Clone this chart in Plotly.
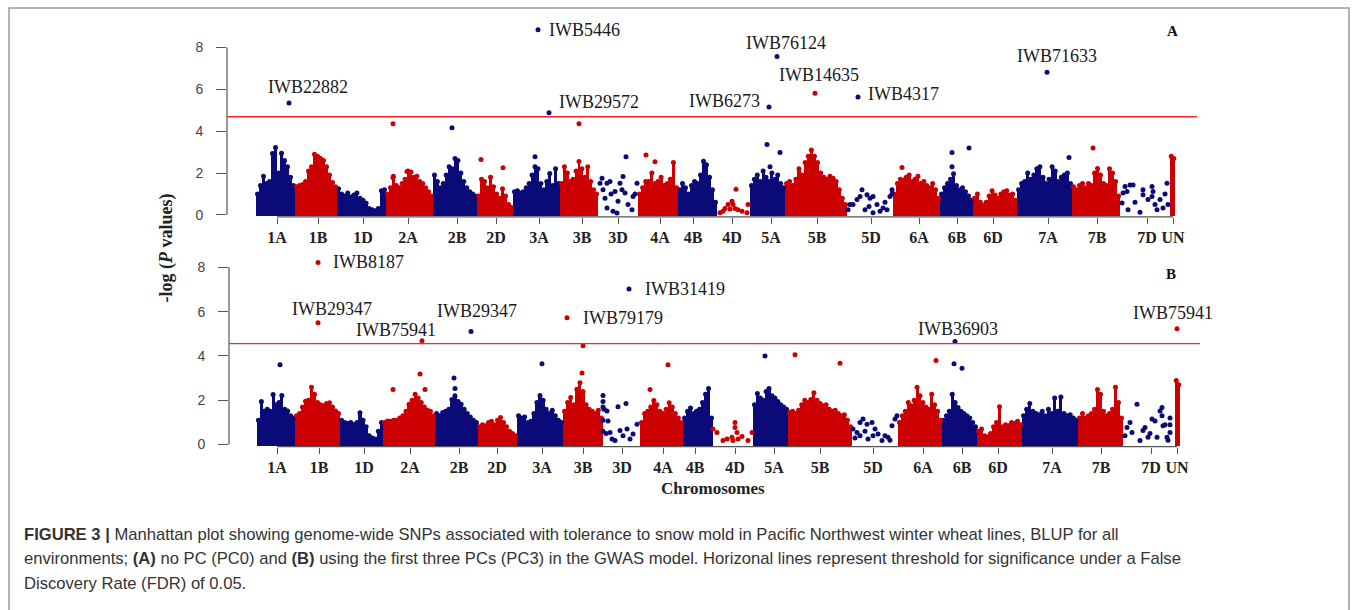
import bisect
import plotly.graph_objects as go

# ---------------------------------------------------------------- data
CHROMS = ["1A", "1B", "1D", "2A", "2B", "2D", "3A", "3B", "3D", "4A", "4B",
          "4D", "5A", "5B", "5D", "6A", "6B", "6D", "7A", "7B", "7D", "UN"]

# ---- panel A (PC0) : cumulative position scale
A_TICKS = [277, 318, 363, 408, 457, 496, 539, 582, 618, 660, 693,
           732, 771, 817, 871, 919, 957, 993, 1048, 1097, 1147, 1173]
A_STARTS = [256, 295, 337, 386, 433, 477, 513, 560, 598, 638, 678,
            717, 750, 785, 847, 893, 940, 973, 1017, 1072, 1120, 1170]
A_ENDS = [295, 337, 386, 433, 477, 513, 560, 598, 638, 678, 717,
          750, 785, 847, 893, 940, 973, 1017, 1072, 1120, 1170, 1175]
# upper envelope of the dense SNP clouds (-log P), evenly spaced along each chromosome
A_CLOUD = [
    [1.0, 1.4, 1.85, 1.5, 1.6, 2.93, 3.22, 2.0, 2.95, 2.6, 2.3, 1.8, 1.4],
    [1.35, 1.4, 1.45, 1.6, 2.1, 2.3, 2.9, 2.8, 2.7, 2.6, 2.3, 1.9, 1.55, 1.35],
    [1.25, 1.0, 0.9, 1.05, 0.85, 0.95, 1.05, 0.8, 0.7, 0.55, 0.3, 0.25, 0.2, 0.3, 1.15, 1.2],
    [1.0, 1.3, 1.85, 1.4, 1.3, 1.5, 1.7, 2.1, 2.05, 1.8, 1.85, 1.6, 1.5, 1.3, 1.1, 0.9],
    [1.9, 1.6, 1.3, 1.5, 1.9, 2.3, 2.2, 2.7, 2.6, 2.0, 1.6, 1.3, 1.1, 1.0, 0.9],
    [0.9, 1.7, 1.6, 1.3, 1.8, 1.35, 1.0, 0.8, 1.25, 0.9, 0.5, 0.35],
    [1.1, 1.15, 1.05, 1.1, 1.3, 1.5, 1.9, 2.3, 2.2, 1.5, 1.2, 1.6, 1.98, 1.4, 2.2, 1.5],
    [1.5, 2.3, 2.0, 1.6, 1.7, 2.1, 2.55, 2.2, 1.8, 2.3, 1.6, 1.2, 1.0],
    [],
    [1.0, 1.3, 1.6, 1.6, 2.0, 1.5, 1.6, 1.8, 1.4, 1.5, 1.7, 2.5, 1.3],
    [1.2, 1.5, 1.3, 1.0, 1.4, 1.6, 1.5, 1.9, 2.56, 2.4, 1.8, 1.2, 0.6],
    [],
    [1.4, 1.7, 1.9, 1.6, 2.1, 1.8, 1.6, 2.0, 1.7, 1.9, 1.5, 1.3],
    [1.5, 1.6, 1.4, 1.7, 2.2, 1.9, 2.5, 2.8, 3.1, 2.8, 2.5, 2.0, 1.8, 1.7, 1.85, 1.75, 1.6, 1.2, 0.8, 0.5],
    [],
    [1.0, 1.5, 1.7, 1.65, 1.8, 1.9, 1.6, 1.7, 1.85, 1.5, 1.6, 1.4, 1.3, 1.5, 1.2, 0.8],
    [1.0, 1.3, 1.5, 1.7, 1.97, 1.4, 1.2, 1.3, 1.1, 0.9, 0.7],
    [0.8, 1.0, 0.6, 0.45, 0.6, 0.9, 1.15, 0.95, 0.8, 1.0, 1.1, 1.15, 0.95, 1.0, 0.7],
    [1.2, 1.5, 1.6, 2.0, 1.7, 1.9, 2.2, 2.3, 1.8, 1.5, 1.7, 2.3, 2.1, 1.6, 1.8, 1.9, 2.0, 1.5],
    [1.35, 1.2, 1.4, 1.5, 1.3, 1.5, 1.4, 2.0, 2.22, 1.9, 1.5, 1.4, 2.2, 2.0, 1.6, 0.9],
    [],
    [2.8, 2.7],
]
# individual SNPs (sparse chromosomes and isolated points)
A_SNP_POS = [600, 602, 603, 607, 607, 610, 613, 615, 617, 618, 620, 623, 625, 626, 628, 632, 633, 637, 605, 611, 622, 635,
             720, 723, 728, 730, 732, 733, 736, 738, 742, 747, 748, 725, 735,
             848, 853, 857, 860, 862, 865, 867, 870, 873, 873, 877, 880, 883, 887, 890, 892, 892, 850, 869, 885,
             1122, 1123, 1125, 1127, 1128, 1130, 1133, 1140, 1143, 1143, 1148, 1152, 1152, 1153, 1155, 1157, 1160, 1163, 1167, 1168, 1165, 1135,
             393, 452, 579, 481, 503, 535, 646, 655, 767, 780, 770, 902, 952, 969, 952, 1069, 1093, 393, 407]
A_SNP_VAL = [1.51, 1.75, 1.2, 1.51, 0.33, 1.59, 0.17, 1.12, 0.09, 0.65, 1.51, 1.83, 1.04, 2.78, 0.49, 0.25, 0.88, 1.51, 0.8, 1.0, 1.2, 1.0,
             0.1, 0.17, 0.49, 0.28, 0.65, 0.49, 1.23, 0.25, 0.17, 0.1, 0.49, 0.3, 0.3,
             0.25, 0.49, 0.73, 0.88, 1.2, 0.25, 0.96, 0.8, 0.88, 0.1, 0.49, 0.17, 0.33, 0.25, 0.88, 1.2, 1.0, 0.5, 0.4, 0.6,
             0.57, 1.04, 1.36, 1.12, 0.25, 1.43, 1.43, 0.12, 1.2, 0.96, 0.73, 1.36, 0.88, 1.12, 0.49, 0.25, 0.73, 0.33, 1.51, 0.49, 1.0, 0.6,
             4.35, 4.16, 4.35, 2.65, 2.25, 2.78, 2.86, 2.54, 3.36, 2.98, 2.3, 2.27, 2.98, 3.2, 2.3, 2.74, 3.2, 1.77, 2.07]
A_SIG_NAME = ["IWB5446", "IWB22882", "IWB29572", "IWB76124", "IWB14635", "IWB6273", "IWB4317", "IWB71633"]
A_SIG_POS = [538, 289, 549, 777, 815, 769, 858, 1047]
A_SIG_VAL = [8.85, 5.35, 4.88, 7.57, 5.82, 5.16, 5.63, 6.82]
A_THRESHOLD = 4.69

# ---- panel B (PC3)
B_TICKS = [277, 319, 364, 410, 459, 497, 542, 583, 622, 663, 695,
           735, 774, 820, 873, 923, 962, 998, 1052, 1101, 1151, 1177]
B_STARTS = [257, 295, 340, 383, 435, 478, 517, 563, 603, 640, 683,
            713, 753, 788, 852, 898, 942, 977, 1022, 1078, 1123, 1175]
B_ENDS = [295, 340, 383, 435, 478, 517, 563, 603, 640, 683, 713,
          753, 788, 852, 898, 942, 977, 1022, 1078, 1123, 1173, 1180]
B_CLOUD = [
    [1.1, 1.94, 1.5, 1.6, 1.5, 2.26, 1.8, 1.9, 2.22, 1.6, 1.52, 1.3, 1.2],
    [1.3, 1.4, 1.7, 1.96, 2.0, 2.59, 2.27, 1.9, 1.8, 1.75, 1.85, 1.89, 1.7, 1.52, 1.4],
    [1.1, 1.0, 0.95, 1.0, 0.9, 1.0, 1.44, 1.1, 0.8, 0.4, 0.3, 0.25, 0.6, 1.0],
    [1.0, 1.07, 1.05, 1.1, 1.1, 1.2, 1.3, 1.5, 1.82, 2.0, 2.27, 2.1, 1.9, 1.7, 1.55, 1.5, 1.3],
    [1.4, 1.3, 1.45, 1.5, 1.6, 2.04, 2.2, 1.95, 1.82, 1.6, 1.4, 1.25, 1.1, 1.0],
    [0.8, 0.9, 0.85, 1.0, 1.05, 0.9, 1.1, 1.22, 1.0, 0.8, 0.6, 0.5, 0.4],
    [1.3, 1.2, 1.25, 1.0, 1.05, 1.4, 1.9, 2.22, 2.0, 1.6, 1.4, 1.55, 1.3, 1.1, 1.0],
    [1.5, 1.9, 2.13, 1.8, 2.5, 2.79, 2.4, 1.8, 1.6, 1.5, 1.4, 1.55, 1.2],
    [],
    [1.0, 1.4, 1.5, 1.7, 1.99, 1.8, 1.5, 1.4, 1.6, 1.89, 1.7, 1.4, 1.2, 1.0],
    [1.2, 1.5, 1.65, 1.4, 1.5, 1.6, 1.9, 2.27, 2.53, 1.2],
    [],
    [1.8, 2.31, 2.1, 2.0, 2.4, 2.53, 2.2, 2.1, 1.95, 1.8, 1.7, 1.6],
    [1.45, 1.5, 1.4, 1.55, 1.8, 2.0, 1.9, 2.04, 2.34, 2.0, 1.85, 1.75, 1.8, 1.6, 1.5, 1.55, 1.4, 1.3, 1.35, 1.1, 0.8],
    [],
    [1.0, 1.3, 1.5, 1.9, 1.75, 2.0, 2.59, 2.2, 1.9, 1.7, 1.6, 2.27, 1.8, 1.5, 1.1],
    [1.1, 1.3, 1.5, 2.27, 1.9, 1.67, 1.5, 1.4, 1.3, 1.2, 1.0, 0.8],
    [0.6, 0.7, 0.4, 0.35, 0.5, 0.8, 1.0, 1.71, 0.8, 0.9, 0.85, 1.0, 0.95, 1.05, 0.9],
    [1.3, 1.6, 1.85, 1.5, 1.4, 1.35, 1.5, 1.3, 1.6, 1.4, 2.1, 1.5, 2.15, 1.4, 1.3, 1.35, 1.2, 1.1],
    [1.2, 1.4, 1.2, 1.3, 1.4, 1.6, 2.49, 2.27, 1.5, 1.3, 1.4, 1.6, 2.59, 1.9, 1.2],
    [],
    [2.89, 2.7],
]
B_SNP_POS = [603, 603, 603, 603, 603, 604, 607, 608, 610, 612, 615, 618, 620, 623, 626, 627, 630, 633, 637, 606,
             713, 717, 723, 727, 732, 733, 735, 735, 737, 738, 742, 748, 752,
             853, 855, 857, 860, 860, 863, 865, 867, 868, 872, 873, 875, 878, 882, 885, 888, 890, 892, 895, 897,
             1125, 1127, 1130, 1132, 1137, 1140, 1143, 1145, 1148, 1150, 1152, 1155, 1157, 1160, 1162, 1162, 1163, 1165, 1167, 1168, 1170, 1170, 1170,
             280, 393, 420, 425, 454, 455, 542, 582, 583, 650, 668, 765, 795, 840, 936, 954, 962]
B_SNP_VAL = [2.22, 1.95, 1.7, 1.1, 0.6, 1.6, 1.52, 1.07, 0.55, 0.25, 0.18, 1.71, 0.63, 0.4, 1.85, 0.7, 0.25, 0.48, 0.92, 0.5,
             0.7, 0.55, 0.18, 0.25, 0.33, 0.18, 1.0, 0.77, 0.55, 0.25, 0.36, 0.18, 0.55,
             0.7, 0.3, 0.55, 1.0, 0.4, 1.15, 0.6, 0.92, 0.25, 1.0, 0.4, 0.7, 0.48, 0.18, 0.4, 0.33, 0.2, 0.85, 1.15, 1.3,
             0.4, 0.77, 1.0, 0.55, 1.82, 0.18, 0.63, 0.77, 0.33, 0.5, 1.15, 1.07, 0.33, 1.52, 1.3, 1.67, 0.85, 0.9, 0.33, 0.2, 0.55, 1.2, 0.9,
             3.6, 2.49, 3.19, 2.49, 3.01, 2.53, 3.65, 3.23, 4.46, 2.49, 3.6, 4.0, 4.05, 3.67, 3.8, 3.65, 3.45]
B_SIG_NAME = ["IWB8187", "IWB29347", "IWB75941", "IWB29347", "IWB79179", "IWB31419", "IWB36903", "IWB75941"]
B_SIG_POS = [318, 318, 422, 471, 567, 629, 955, 1177]
B_SIG_VAL = [8.22, 5.50, 4.69, 5.10, 5.72, 7.02, 4.65, 5.23]
B_THRESHOLD = 4.56

CAPTION = [
    "<b>FIGURE 3 |</b> Manhattan plot showing genome-wide SNPs associated with tolerance to snow mold in Pacific Northwest winter wheat lines, BLUP for all",
    "environments; <b>(A)</b> no PC (PC0) and <b>(B)</b> using the first three PCs (PC3) in the GWAS model. Horizonal lines represent threshold for significance under a False",
    "Discovery Rate (FDR) of 0.05.",
]

# ---------------------------------------------------------------- style / layout
W, H = 1355, 610
BLUE, RED = "#0a0a78", "#cc0000"
SERIF = "Liberation Serif, Times New Roman, serif"
SANS = "Liberation Sans, Arial, sans-serif"
AXIS_COL = "#555555"
DOT = 5

# label placement (xanchor, dx px, dy px) for each significant SNP
A_LABEL_PLACE = [("left", 9, 0), ("center", 19, 16), ("left", 8, 11), ("center", 9, 14),
                 ("center", 4, 18), ("right", -7, 6), ("left", 8, 3), ("center", 10, 16)]
B_LABEL_PLACE = [("left", 13, 0), ("center", 14, 14), ("center", -26, 11), ("center", 6, 21),
                 ("left", 14, 0), ("left", 14, 0), ("center", 3, 13), ("center", -4, 16)]

# panel geometry (pixels): axis x position, right edge, zero-line y, px per unit, top y
PANELS = {
    "A": dict(x0=227, x1=1197, y_zero=217, ppu=21.125, top=12, bottom=219),
    "B": dict(x0=229, x1=1200, y_zero=449, ppu=22.375, top=255, bottom=451),
}


def px(xp):
    return xp / W


def py(yp):
    return 1 - yp / H


fig = go.Figure()


def color_of(pos, starts):
    i = bisect.bisect_right(starts, pos) - 1
    return BLUE if i % 2 == 0 else RED


def add_panel(xa, ya, starts, ends, clouds, snp_pos, snp_val, sig_pos, sig_val):
    base = -0.07
    for parity, col in ((0, BLUE), (1, RED)):
        bx, bh, bw = [], [], []
        for i, hs in enumerate(clouds):
            if i % 2 != parity or not hs:
                continue
            step = (ends[i] - starts[i]) / len(hs)
            for k, h in enumerate(hs):
                bx.append(starts[i] + (k + 0.5) * step)
                bh.append(h)
                bw.append(step)
        fig.add_trace(go.Bar(x=bx, y=[h - base for h in bh], base=base, width=bw,
                             marker=dict(color=col, line=dict(width=0)),
                             xaxis=xa, yaxis=ya, hoverinfo="skip", showlegend=False))
        fig.add_trace(go.Scatter(x=bx, y=bh, mode="markers",
                                 marker=dict(size=DOT, color=col, line=dict(width=0)),
                                 xaxis=xa, yaxis=ya, hoverinfo="skip", showlegend=False,
                                 cliponaxis=False))
    allx = list(snp_pos) + list(sig_pos)
    ally = list(snp_val) + list(sig_val)
    fig.add_trace(go.Scatter(x=allx, y=ally, mode="markers",
                             marker=dict(size=DOT, color=[color_of(p, starts) for p in allx],
                                         line=dict(width=0)),
                             xaxis=xa, yaxis=ya, hoverinfo="skip", showlegend=False,
                             cliponaxis=False))


add_panel("x", "y", A_STARTS, A_ENDS, A_CLOUD, A_SNP_POS, A_SNP_VAL, A_SIG_POS, A_SIG_VAL)
add_panel("x2", "y2", B_STARTS, B_ENDS, B_CLOUD, B_SNP_POS, B_SNP_VAL, B_SIG_POS, B_SIG_VAL)


def axis_pair(key, ticks):
    g = PANELS[key]
    ymin = -(g["bottom"] - g["y_zero"]) / g["ppu"]
    ymax = (g["y_zero"] - g["top"]) / g["ppu"]
    xaxis = dict(domain=[px(g["x0"]), px(g["x1"])], range=[g["x0"], g["x1"]],
                 tickmode="array", tickvals=ticks, ticktext=CHROMS,
                 ticks="outside", ticklen=6, tickwidth=1, tickcolor=AXIS_COL,
                 showline=False, showgrid=False, zeroline=False,
                 tickfont=dict(family=SERIF, size=16, color="#222222", weight="bold"))
    yaxis = dict(domain=[py(g["bottom"]), py(g["top"])], range=[ymin, ymax],
                 tickmode="array", tickvals=[0, 2, 4, 6, 8],
                 ticks="outside", ticklen=10, tickwidth=1, tickcolor=AXIS_COL,
                 showline=False, showgrid=False, zeroline=False,
                 ticklabelstandoff=10,
                 tickfont=dict(family=SANS, size=14, color="#444444"))
    return xaxis, yaxis


xa, ya = axis_pair("A", A_TICKS)
xb, yb = axis_pair("B", B_TICKS)
xa["anchor"] = "y"
ya["anchor"] = "x"
xb["anchor"] = "y2"
yb["anchor"] = "x2"

shapes = []
for xr, yr, ticks, thr in (("x", "y", A_TICKS, A_THRESHOLD), ("x2", "y2", B_TICKS, B_THRESHOLD)):
    # y axis line (0..8), x axis line (first..last tick), threshold
    shapes.append(dict(type="line", xref=xr + " domain", yref=yr, x0=0, x1=0, y0=0, y1=8,
                       line=dict(color=AXIS_COL, width=1.2)))
    shapes.append(dict(type="line", xref=xr, yref=yr + " domain", x0=ticks[0], x1=ticks[-1],
                       y0=0, y1=0, line=dict(color=AXIS_COL, width=1.2)))
    shapes.append(dict(type="line", xref=xr + " domain", yref=yr, x0=0, x1=1, y0=thr, y1=thr,
                       line=dict(color="#f02828", width=1.3)))
# figure frame
shapes.append(dict(type="rect", xref="paper", yref="paper", x0=px(9), x1=px(1349),
                   y0=py(640), y1=py(8), line=dict(color="#9a9a9a", width=1.5),
                   fillcolor="rgba(0,0,0,0)"))

ann = []
for xr, yr, names, poss, vals, place in (
        ("x", "y", A_SIG_NAME, A_SIG_POS, A_SIG_VAL, A_LABEL_PLACE),
        ("x2", "y2", B_SIG_NAME, B_SIG_POS, B_SIG_VAL, B_LABEL_PLACE)):
    for n, p, v, (anc, dx, dy) in zip(names, poss, vals, place):
        ann.append(dict(x=p, y=v, xref=xr, yref=yr, text=n, showarrow=False,
                        xanchor=anc, yanchor="middle", xshift=dx, yshift=dy,
                        font=dict(family=SERIF, size=18, color="#1a1a1a")))


def paper_text(x, y, text, font, **kw):
    d = dict(x=px(x), y=py(y), xref="paper", yref="paper", text=text, showarrow=False,
             xanchor="center", yanchor="middle", font=font)
    d.update(kw)
    ann.append(d)


paper_text(1172, 31, "A", dict(family=SERIF, size=15, color="#111111", weight="bold"))
paper_text(1171, 277, "B", dict(family=SERIF, size=15, color="#111111", weight="bold"))
paper_text(713, 493, "Chromosomes", dict(family=SERIF, size=17, color="#222222", weight="bold"))
paper_text(167, 251, "-log (<i>P</i> values)",
           dict(family=SERIF, size=18, color="#222222", weight="bold"), textangle=-90)
for line, ycen in zip(CAPTION, (540, 564, 589)):
    paper_text(22, ycen, line, dict(family=SANS, size=16.6, color="#333333"), xanchor="left")

fig.update_layout(
    width=W, height=H, margin=dict(l=0, r=0, t=0, b=0),
    paper_bgcolor="white", plot_bgcolor="white",
    barmode="overlay", bargap=0, showlegend=False,
    xaxis=xa, yaxis=ya, xaxis2=xb, yaxis2=yb,
    shapes=shapes, annotations=ann,
)

fig.write_html("out.html")
